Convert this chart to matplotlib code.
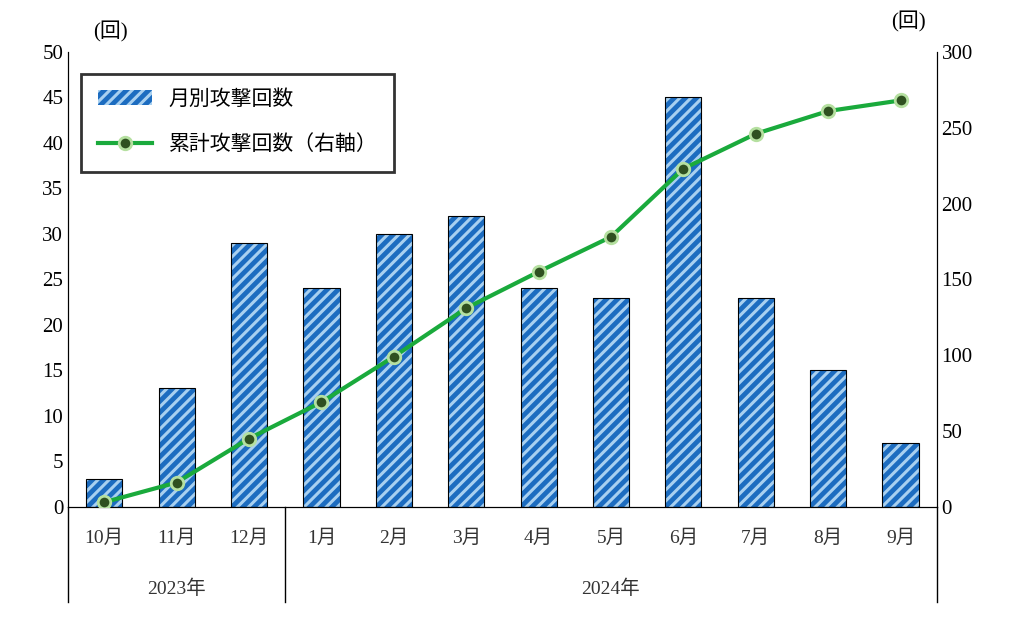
import matplotlib.pyplot as plt
import numpy as np
from matplotlib.lines import Line2D
from matplotlib.patches import Patch

plt.rcParams['font.family'] = ['Liberation Serif', 'Noto Sans CJK JP']
plt.rcParams['hatch.linewidth'] = 2.2

months = ['10月', '11月', '12月', '1月', '2月', '3月', '4月', '5月', '6月', '7月', '8月', '9月']
monthly = [3, 13, 29, 24, 30, 32, 24, 23, 45, 23, 15, 7]
cumulative = [3, 16, 45, 69, 99, 131, 155, 178, 223, 246, 261, 268]
years = ['2023年', '2024年']
year_spans = [(0, 3), (3, 12)]

fig = plt.figure(figsize=(10.16, 6.18), dpi=100)
ax = fig.add_axes([0.067, 0.180, 0.855, 0.736])
x = np.arange(len(months))
ax.bar(x, monthly, width=0.5, color='#1c6cc0', edgecolor='#a8d0f0', hatch='///', linewidth=0, zorder=2)
ax.bar(x, monthly, width=0.5, facecolor='none', edgecolor='black', linewidth=0.8, zorder=3)
ax.set_xlim(-0.5, len(months) - 0.5)
ax.set_ylim(0, 50)
ax.set_yticks(range(0, 51, 5))
ax.set_xticks([])
ax.tick_params(axis='y', length=0, labelsize=15)
ax.spines['top'].set_visible(False)

ax2 = ax.twinx()
ax2.plot(x, cumulative, color='#1aaa3c', linewidth=3, marker='o', markersize=9,
         markerfacecolor='#2f5020', markeredgecolor='#b5e0a0', markeredgewidth=2, zorder=4)
ax2.set_ylim(0, 300)
ax2.set_yticks(range(0, 301, 50))
ax2.tick_params(axis='y', length=0, labelsize=15)
ax2.spines['top'].set_visible(False)

fig.text(110 / 1016, 1 - 32 / 618, '(回)', fontsize=15, ha='center', va='center')
fig.text(908 / 1016, 1 - 22 / 618, '(回)', fontsize=15, ha='center', va='center')

# category labels below the axis
for i, m in enumerate(months):
    ax.text(i, -0.07, m, transform=ax.get_xaxis_transform(), ha='center', va='center', fontsize=14, color='#333333')
for (a, b), y in zip(year_spans, years):
    ax.text((a + b - 1) / 2, -0.18, y, transform=ax.get_xaxis_transform(), ha='center', va='center', fontsize=14, color='#333333')
for xb in [-0.5, 2.5, len(months) - 0.5]:
    ax.plot([xb, xb], [0, -0.21], transform=ax.get_xaxis_transform(), color='black', linewidth=1, clip_on=False)

handles = [Patch(facecolor='#1c6cc0', edgecolor='#a8d0f0', hatch='///', linewidth=0),
           Line2D([0], [0], color='#1aaa3c', linewidth=3, marker='o', markersize=9,
                  markerfacecolor='#2f5020', markeredgecolor='#b5e0a0', markeredgewidth=2)]
leg = ax.legend(handles, ['月別攻撃回数', '累計攻撃回数（右軸）'], loc='upper left',
                bbox_to_anchor=(0.003, 0.975), fontsize=15, frameon=True, fancybox=False,
                edgecolor='black', handlelength=2.6, labelspacing=1.2, borderpad=0.8)
leg.get_frame().set_linewidth(2)

fig.savefig('out.png', dpi=100)
